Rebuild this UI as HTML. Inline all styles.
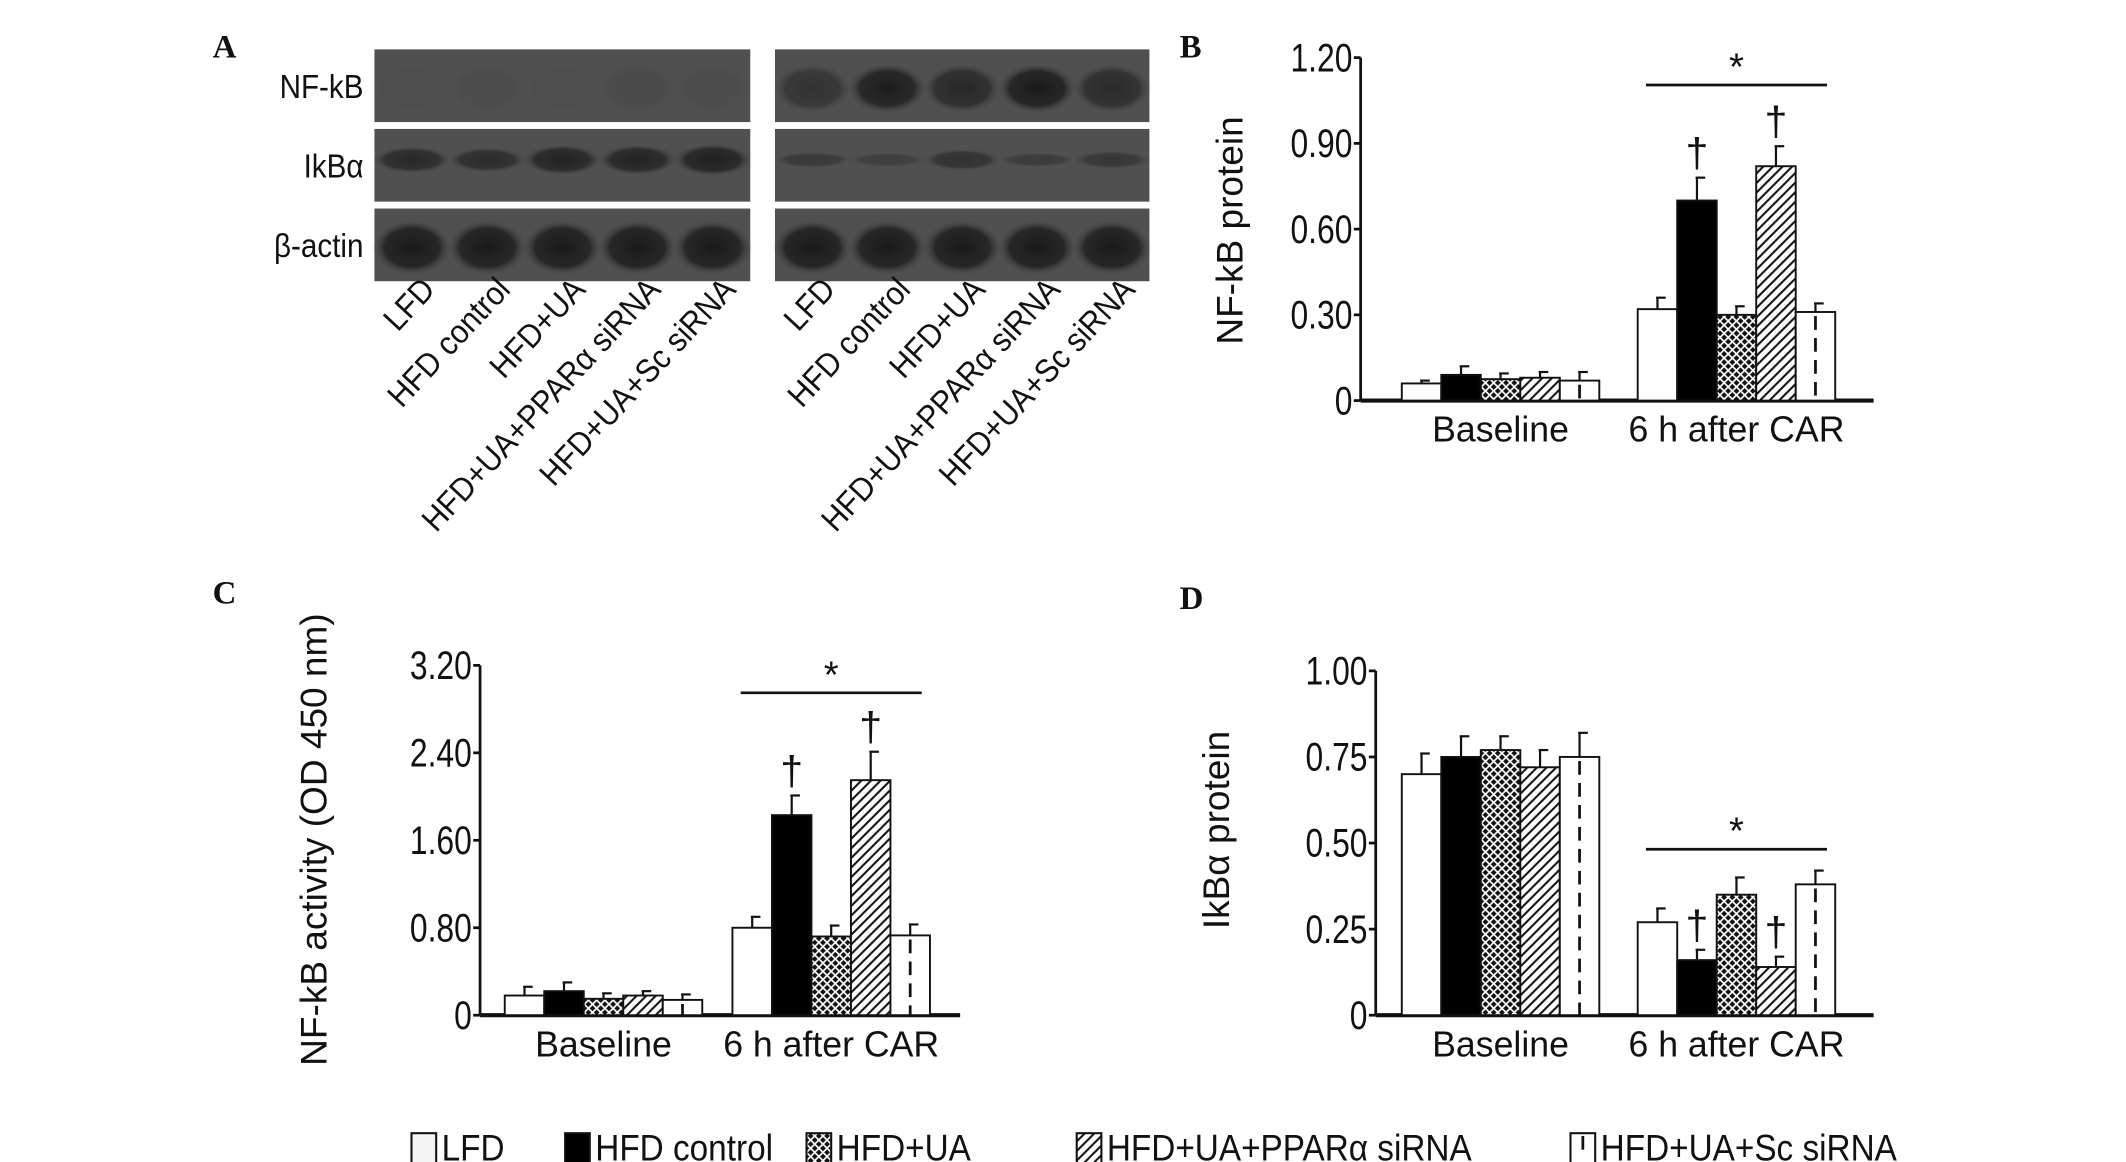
<!DOCTYPE html>
<html><head><meta charset="utf-8"><style>
html,body{margin:0;padding:0;background:#fff;}
svg{display:block;}
text{font-family:"Liberation Sans",Arial,sans-serif;fill:#111;}
.pl{font-family:"Liberation Serif",serif;font-weight:bold;font-size:24px;}
</style></head><body>
<svg id="fig" width="2126" height="1162" viewBox="0 0 1550 847" preserveAspectRatio="none" xmlns="http://www.w3.org/2000/svg">
<defs>
<pattern id="pCross" width="6" height="6" patternUnits="userSpaceOnUse"><rect width="6" height="6" fill="#111"/><path d="M0 0L6 6M6 0L0 6" stroke="#fff" stroke-width="1.2"/></pattern>
<pattern id="pDiag" width="7" height="7" patternUnits="userSpaceOnUse"><rect width="7" height="7" fill="#fff"/><path d="M-1 8L8 -1M-1 1L1 -1M6 8L8 6" stroke="#111" stroke-width="1.5"/></pattern>
<radialGradient id="band"><stop offset="0" stop-color="#1a1a1a"/><stop offset="0.7" stop-color="#222" stop-opacity="0.9"/><stop offset="1" stop-color="#444" stop-opacity="0"/></radialGradient>
</defs>
<g id="panelA"></g>
<g id="panelB"></g>
<g id="panelC"></g>
<g id="panelD"></g>
<g id="legend"></g>
</svg>
<script>
const groups = ["LFD","HFD control","HFD+UA","HFD+UA+PPARα siRNA","HFD+UA+Sc siRNA"];
const categories = ["Baseline","6 h after CAR"];
const fills = ["#fff","#000","url(#pCross)","url(#pDiag)","#fff"];
// Panel B
const bTicks = [0,0.30,0.60,0.90,1.20];
const bTickLabels = ["0","0.30","0.60","0.90","1.20"];
const bBaseline = [0.06,0.09,0.075,0.08,0.07];
const bBaselineErr = [0.01,0.03,0.02,0.02,0.03];
const bCar = [0.32,0.70,0.30,0.82,0.31];
const bCarErr = [0.04,0.08,0.03,0.07,0.03];
// Panel C
const cTicks = [0,0.80,1.60,2.40,3.20];
const cTickLabels = ["0","0.80","1.60","2.40","3.20"];
const cBaseline = [0.18,0.22,0.15,0.18,0.14];
const cBaselineErr = [0.08,0.08,0.05,0.04,0.05];
const cCar = [0.80,1.83,0.72,2.15,0.73];
const cCarErr = [0.10,0.18,0.10,0.26,0.10];
// Panel D
const dTicks = [0,0.25,0.50,0.75,1.00];
const dTickLabels = ["0","0.25","0.50","0.75","1.00"];
const dBaseline = [0.70,0.75,0.77,0.72,0.75];
const dBaselineErr = [0.06,0.06,0.04,0.05,0.07];
const dCar = [0.27,0.16,0.35,0.14,0.38];
const dCarErr = [0.04,0.03,0.05,0.03,0.04];
const daggerIdx = [1,3];

const NS="http://www.w3.org/2000/svg";
function mk(parent,tag,attrs,txt){const e=document.createElementNS(NS,tag);for(const k in attrs)e.setAttribute(k,attrs[k]);if(txt!=null)e.textContent=txt;parent.appendChild(e);return e;}

function chart(g,cfg){
  const yS=v=>cfg.y0-(v/cfg.max)*(cfg.y0-cfg.yTop);
  let a=mk(g,'line',{x1:cfg.ax,y1:cfg.yTop,x2:cfg.ax,y2:cfg.y0,stroke:'#111','stroke-width':2});
  
  
  a=mk(g,'line',{x1:cfg.ax,y1:cfg.y0,x2:cfg.xEnd,y2:cfg.y0,stroke:'#111','stroke-width':3});
  
  
  cfg.ticks.forEach((t,i)=>{
    mk(g,'line',{x1:cfg.ax-5,y1:yS(t),x2:cfg.ax,y2:yS(t),stroke:'#111','stroke-width':2});
    const tl=mk(g,'text',{x:cfg.ax-6,y:yS(t)+10,'text-anchor':'end','font-size':29,transform:`translate(${cfg.ax-6},0) scale(0.8,1) translate(${-(cfg.ax-6)},0)`},cfg.tickLabels[i]);
    
    
  });
  const yt=mk(g,'text',{x:0,y:0,'text-anchor':'middle','font-size':27,transform:`translate(${cfg.titleX},${cfg.titleY}) rotate(-90)`},cfg.title);
  
  
  const bw=28.8;
  [cfg.base,cfg.car].forEach((vals,ci)=>{
    const errs=ci===0?cfg.baseErr:cfg.carErr;
    const x0=cfg.gx[ci];
    vals.forEach((v,i)=>{
      const x=x0+i*bw, y=yS(v), e=yS(v+errs[i]);
      const el=mk(g,'line',{x1:x+bw/2,y1:y,x2:x+bw/2,y2:e,stroke:'#111','stroke-width':1.6});
      
      
      mk(g,'line',{x1:x+bw/2-1,y1:e,x2:x+bw/2+6,y2:e,stroke:'#111','stroke-width':1.6});
      const r=mk(g,'rect',{x:x,y:y,width:bw,height:cfg.y0-y,fill:fills[i],stroke:'#111','stroke-width':1.4});
      
      
      if(i===4){
        mk(g,'line',{x1:x+bw/2,y1:y+3,x2:x+bw/2,y2:cfg.y0,stroke:'#111','stroke-width':2,'stroke-dasharray':'10 6'});
      }
      if(ci===1 && daggerIdx.includes(i)){
        const d=mk(g,'text',{x:x+bw/2,y:e-8,'text-anchor':'middle','font-size':30,'font-family':'Liberation Serif'},'†');
        
        
      }
    });
    const lab=mk(g,'text',{x:x0+2.5*bw,y:cfg.y0+30,'text-anchor':'middle','font-size':26},categories[ci]);
    
    
  });
  const sl=mk(g,'line',{x1:cfg.gx[1]+6,y1:cfg.sigY,x2:cfg.gx[1]+5*bw-6,y2:cfg.sigY,stroke:'#111','stroke-width':2});
  
  
  const st=mk(g,'text',{x:cfg.gx[1]+2.5*bw,y:cfg.sigY-4,'text-anchor':'middle','font-size':28,'font-family':'Liberation Serif'},'*');
  
  
  const pl=mk(g,'text',{x:cfg.lx,y:cfg.ly,'class':'pl'},cfg.letter);
  
  
}

chart(document.getElementById('panelB'),{ax:992,yTop:42,y0:292,xEnd:1366,max:1.2,ticks:bTicks,tickLabels:bTickLabels,
  base:bBaseline,baseErr:bBaselineErr,car:bCar,carErr:bCarErr,gx:[1022,1194],sigY:62,title:'NF-kB protein',titleX:906,titleY:168,letter:'B',lx:860,ly:42});
chart(document.getElementById('panelC'),{ax:350,yTop:485,y0:740,xEnd:700,max:3.2,ticks:cTicks,tickLabels:cTickLabels,
  base:cBaseline,baseErr:cBaselineErr,car:cCar,carErr:cCarErr,gx:[368,534],sigY:505,title:'NF-kB activity (OD 450 nm)',titleX:238,titleY:612,letter:'C',lx:155,ly:440});
chart(document.getElementById('panelD'),{ax:1003,yTop:489,y0:740,xEnd:1366,max:1.0,ticks:dTicks,tickLabels:dTickLabels,
  base:dBaseline,baseErr:dBaselineErr,car:dCar,carErr:dCarErr,gx:[1022,1194],sigY:619,title:'IkBα protein',titleX:896,titleY:605,letter:'D',lx:860,ly:444});

// Panel A: western blots
const blotRows = ["NF-kB","IkBα","β-actin"];
const leftNf = [0.05,0.08,0.05,0.12,0.08];
const rightNf = [0.55,0.95,0.75,1.0,0.7];
const leftIk = [0.75,0.7,0.85,0.85,0.9];
const rightIk = [0.45,0.35,0.6,0.4,0.5];
const actin = [1,1,1,1,1];
(function(){
  const g=document.getElementById('panelA');
  const pl=mk(g,'text',{x:155,y:42,'class':'pl'},'A');
  
  
  const blots=[{x:273,w:274},{x:565,w:273}];
  const rowsY=[36,94,152], rh=53;
  const intens=[[leftNf,rightNf],[leftIk,rightIk],[actin,actin]];
  blotRows.forEach((name,r)=>{
    const t=mk(g,'text',{x:265,y:rowsY[r]+rh/2+9,'text-anchor':'end','font-size':24,transform:`translate(265,0) scale(0.9,1) translate(-265,0)`},name);
    
    
    blots.forEach((b,bi)=>{
      const rc=mk(g,'rect',{x:b.x,y:rowsY[r],width:b.w,height:rh,fill:'#505050'});
      
      
      const lw=b.w/5;
      intens[r][bi].forEach((v,i)=>{
        const cx=b.x+lw*(i+0.5), cy=rowsY[r]+rh/2+(r===1?-4:2);
        const ry=r===2?20:(r===1?13*Math.max(v,0.4):18);
        mk(g,'ellipse',{cx:cx,cy:cy,rx:lw*0.52,ry:ry,fill:'url(#band)',opacity:v});
      });
    });
  });
  blots.forEach(b=>{
    const lw=b.w/5;
    groups.forEach((gname,i)=>{
      const x=b.x+lw*(i+0.5)+18, y=212;
      const t=mk(g,'text',{x:0,y:0,'text-anchor':'end','font-size':24,transform:`translate(${x},${y}) rotate(-47) scale(0.92,1)`},gname);
      
      
    });
  });
})();

// Legend
const legendX = [300,412,588,785,1145];
(function(){
  const g=document.getElementById('legend');
  groups.forEach((name,i)=>{
    const x=legendX[i];
    const r=mk(g,'rect',{x:x,y:826,width:18,height:22,fill:i===0?'#f4f4f4':fills[i],stroke:'#111','stroke-width':1.5});
    
    
    if(i===4) mk(g,'line',{x1:x+9,y1:828,x2:x+9,y2:838,stroke:'#111','stroke-width':2});
    const t=mk(g,'text',{x:x+22,y:846,'font-size':27,transform:`translate(${x+22},0) scale(0.9,1) translate(${-(x+22)},0)`},name);
    
    
  });
})();
</script>
</body></html>
